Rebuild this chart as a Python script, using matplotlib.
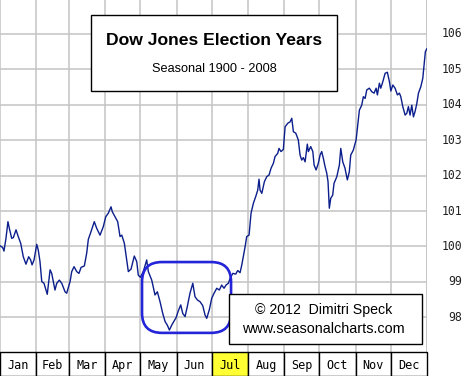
import matplotlib
matplotlib.use("Agg")
import matplotlib.pyplot as plt
from matplotlib.patches import FancyBboxPatch, Rectangle
from matplotlib.transforms import blended_transform_factory

# seasonal pattern, day of year vs. index level
days = [0.0, 2.3, 3.4, 5.1, 6.8, 8.0, 10.0, 11.4, 13.7, 15.6, 17.7, 19.9, 22.2, 24.5,
        26.2, 27.4, 29.1, 31.4, 32.7, 34.2, 35.7, 37.6, 40.4, 42.8, 44.2, 45.6, 47.0,
        48.5, 50.7, 52.8, 55.6, 57.0, 59.9, 61.3, 63.3, 65.6, 67.5, 69.3, 72.1, 74.1,
        75.5, 77.8, 80.6, 82.7, 85.5, 88.3, 90.4, 92.6, 94.9, 96.0, 98.3, 100.6, 102.6,
        104.1, 106.3, 108.3, 109.7, 112.0, 114.8, 116.9, 118.2, 120.0, 122.5, 125.4,
        126.8, 129.7, 132.5, 134.5, 136.8, 139.1, 141.1, 143.0, 144.8, 146.8, 148.2,
        150.5, 152.4, 154.5, 156.2, 158.2, 160.1, 162.4, 164.8, 166.7, 168.7, 171.0,
        173.3, 175.3, 176.7, 178.9, 181.0, 183.0, 185.3, 187.5, 189.5, 191.5, 193.2,
        195.2, 196.7, 199.0, 201.5, 203.2, 205.2, 206.7, 208.0, 209.5, 210.9, 212.9,
        214.6, 216.6, 218.6, 220.3, 221.4, 222.3, 223.8, 226.0, 228.0, 230.0, 231.7,
        233.7, 235.1, 237.4, 238.5, 240.2, 242.2, 243.7, 246.0, 248.0, 249.4, 250.8,
        252.8, 255.0, 256.5, 257.9, 259.3, 260.8, 262.7, 263.6, 265.6, 267.4, 268.5,
        270.2, 272.1, 273.6, 275.0, 276.4, 277.9, 279.3, 280.4, 281.5, 282.7, 284.4,
        285.5, 287.9, 290.1, 291.3, 293.0, 294.9, 296.9, 298.6, 299.8, 302.0, 304.4,
        305.8, 307.2, 309.2, 310.6, 312.1, 313.5, 315.7, 317.8, 319.8, 321.5, 322.6,
        324.3, 325.5, 327.2, 329.2, 331.1, 332.9, 334.1, 335.8, 337.7, 339.7, 341.4,
        342.6, 344.3, 346.3, 347.7, 349.1, 350.5, 352.0, 353.4, 354.8, 356.3, 357.7,
        359.7, 361.4, 362.5, 363.6, 364.8]
values = [100.02, 99.97, 99.87, 100.23, 100.70, 100.51, 100.23, 100.25, 100.47, 100.28,
          100.09, 99.71, 99.50, 99.71, 99.62, 99.48, 99.62, 100.06, 99.90, 99.57, 99.01,
          98.96, 98.65, 99.34, 99.24, 99.01, 98.77, 98.96, 99.05, 98.96, 98.72, 98.68,
          99.01, 99.29, 99.43, 99.29, 99.24, 99.41, 99.45, 99.81, 100.20, 100.42, 100.70,
          100.51, 100.32, 100.56, 100.84, 100.94, 101.12, 100.98, 100.84, 100.70, 100.28,
          100.32, 100.09, 99.62, 99.29, 99.36, 99.73, 99.57, 99.19, 99.13, 99.29, 99.62,
          99.29, 99.05, 98.63, 98.72, 98.44, 98.11, 97.88, 97.78, 97.64, 97.78, 97.86,
          97.99, 98.18, 98.35, 98.11, 98.02, 98.30, 98.68, 98.96, 98.58, 98.49, 98.44,
          98.33, 98.06, 97.97, 98.21, 98.54, 98.68, 98.82, 98.77, 98.91, 98.82, 98.91,
          98.96, 99.10, 99.24, 99.22, 99.32, 99.26, 99.48, 99.71, 99.99, 100.28, 100.32,
          100.94, 101.22, 101.41, 101.59, 101.90, 101.59, 101.50, 101.83, 101.97, 102.02,
          102.21, 102.35, 102.54, 102.63, 102.77, 102.68, 102.74, 103.38, 103.48, 103.52,
          103.62, 103.24, 103.20, 103.01, 102.58, 102.44, 102.51, 102.39, 102.89, 102.68,
          102.82, 102.68, 102.30, 102.16, 102.35, 102.58, 102.68, 102.49, 102.25, 102.07,
          101.83, 101.08, 101.36, 101.45, 101.78, 101.97, 102.30, 102.77, 102.39, 102.21,
          101.88, 102.11, 102.58, 102.72, 103.01, 103.43, 103.85, 103.99, 104.23, 104.18,
          104.42, 104.47, 104.37, 104.33, 104.47, 104.28, 104.61, 104.47, 104.65, 104.89,
          104.92, 104.65, 104.39, 104.56, 104.47, 104.28, 104.33, 104.23, 103.95, 103.71,
          103.76, 103.95, 103.71, 103.99, 103.66, 103.81, 104.04, 104.33, 104.51, 104.75,
          105.12, 105.50, 105.58]

months = ["Jan", "Feb", "Mar", "Apr", "May", "Jun", "Jul", "Aug", "Sep", "Oct", "Nov", "Dec"]
month_starts = [0, 31, 59, 90, 120, 151, 181, 212, 243, 273, 304, 334, 365]
levels = [98, 99, 100, 101, 102, 103, 104, 105, 106]
highlight = "Jul"

fig = plt.figure(figsize=(4.76, 3.76), dpi=100)
ax = fig.add_axes([0, 24 / 376, 427 / 476, 352 / 376])
ax.set_xlim(0, 365)
ax.set_ylim(97.02, 106.96)
for s in ax.spines.values():
    s.set_visible(False)
ax.set_xticks(month_starts)
ax.set_yticks(levels)
ax.tick_params(length=0, labelbottom=False, labelleft=False)
ax.grid(True, color="#c4c4c4", linewidth=1.1)
ax.axvline(365, color="#c4c4c4", linewidth=1.1)

ax.plot(days, values, color="#0b1e8c", linewidth=1.0, zorder=3)

# right hand labels
tr = blended_transform_factory(ax.transAxes, ax.transData)
for lv in levels:
    ax.text(1.083, lv, str(lv), transform=tr, ha="right", va="center",
            family="DejaVu Sans Mono", fontsize=8.3, color="#222222")

# title box
ax.add_patch(Rectangle((0.213, 0.7415), 0.576, 0.2155, transform=ax.transAxes,
                       facecolor="white", edgecolor="black", linewidth=1.0, zorder=5))
ax.text(0.501, 0.886, "Dow Jones Election Years", transform=ax.transAxes, ha="center",
        va="center", family="Liberation Sans", fontweight="bold", fontsize=12.6, zorder=6)
ax.text(0.501, 0.804, "Seasonal 1900 - 2008", transform=ax.transAxes, ha="center",
        va="center", family="Liberation Sans", fontsize=9.2, zorder=6)

# copyright box
ax.add_patch(Rectangle((0.536, 0.0227), 0.452, 0.1423, transform=ax.transAxes,
                       facecolor="white", edgecolor="black", linewidth=1.0, zorder=5))
ax.text(0.758, 0.119, "\u00a9 2012  Dimitri Speck", transform=ax.transAxes, ha="center",
        va="center", family="Liberation Sans", fontsize=10.2, zorder=6)
ax.text(0.758, 0.066, "www.seasonalcharts.com", transform=ax.transAxes, ha="center",
        va="center", family="Liberation Sans", fontsize=10.4, zorder=6)

# rounded marker around the May/June low
ax.add_patch(FancyBboxPatch((121.4, 97.56), 76.1, 2.0,
                            boxstyle="round,pad=0,rounding_size=17",
                            mutation_aspect=0.033, facecolor="none",
                            edgecolor="#2424d8", linewidth=1.9, zorder=4))

# month strip
mx = fig.add_axes([0, 0, 427 / 476, 24 / 376])
mx.set_xlim(0, 365)
mx.set_ylim(0, 1)
mx.axis("off")
for i, m in enumerate(months):
    a, b = month_starts[i], month_starts[i + 1]
    fc = "#ffff33" if m == highlight else "white"
    mx.add_patch(Rectangle((a, 0), b - a, 1, facecolor=fc, edgecolor="black",
                           linewidth=1.0, clip_on=False))
    mx.text((a + b) / 2, 0.45, m, ha="center", va="center",
            family="DejaVu Sans Mono", fontsize=8.5)

fig.savefig("out.png", dpi=100)
